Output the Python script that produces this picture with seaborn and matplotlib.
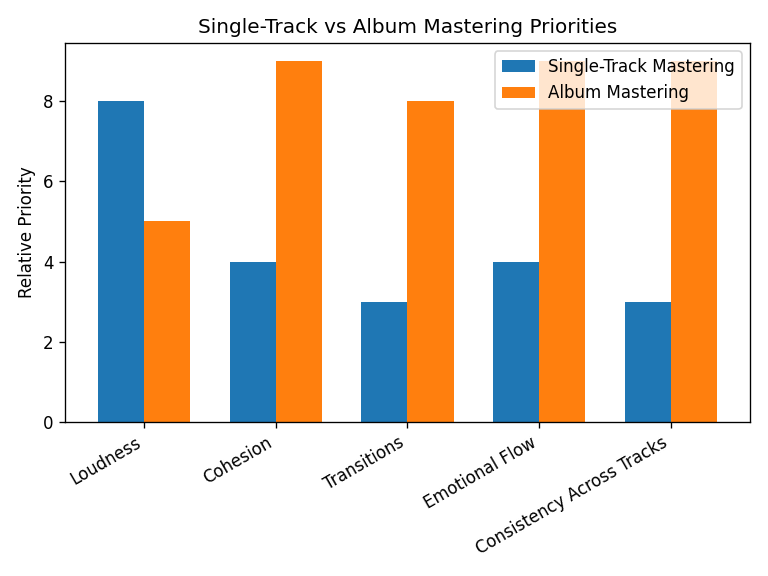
import pandas as pd
import seaborn as sns
import matplotlib.pyplot as plt

categories = ['Loudness', 'Cohesion', 'Transitions', 'Emotional Flow', 'Consistency Across Tracks']
single_track = [8, 4, 3, 4, 3]
album = [5, 9, 8, 9, 9]

df = pd.DataFrame({
    'Aspect': categories * 2,
    'Priority': single_track + album,
    'Type': ['Single-Track Mastering'] * 5 + ['Album Mastering'] * 5,
})

fig, ax = plt.subplots(figsize=(6.4, 4.8), dpi=120)
sns.barplot(data=df, x='Aspect', y='Priority', hue='Type', ax=ax,
            palette=['#1f77b4', '#ff7f0e'], width=0.7, saturation=1)
ax.set_title('Single-Track vs Album Mastering Priorities')
ax.set_ylabel('Relative Priority')
ax.set_xlabel('')
ax.set_xlim(-0.6, 4.6)
plt.setp(ax.get_xticklabels(), rotation=30, ha='right')
ax.legend(loc='upper right')
plt.tight_layout()
plt.savefig('out.png', dpi=120)
